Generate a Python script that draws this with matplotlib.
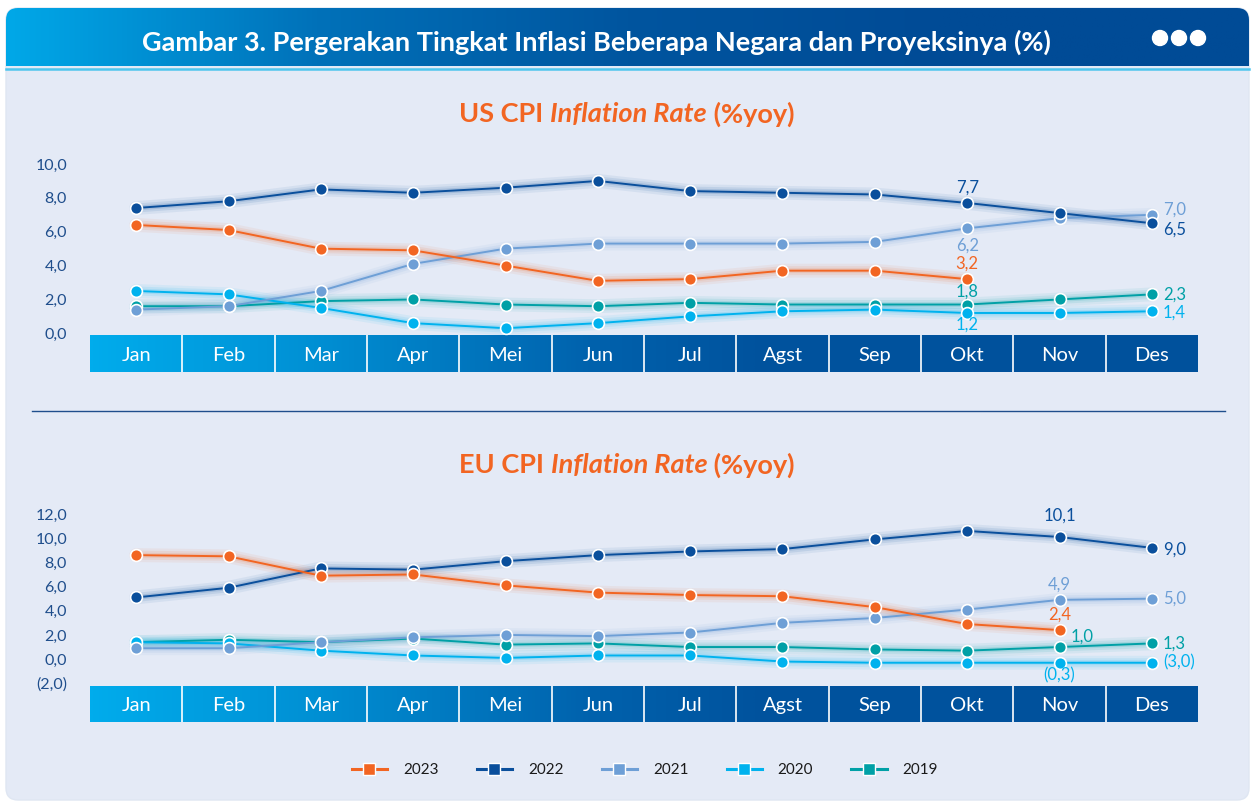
import numpy as np
import matplotlib
matplotlib.use("Agg")
import matplotlib.pyplot as plt
from matplotlib.patches import FancyBboxPatch
from matplotlib.colors import LinearSegmentedColormap
from matplotlib.lines import Line2D
from matplotlib.offsetbox import TextArea, HPacker, AnnotationBbox

plt.rcParams['font.family'] = ['Lato', 'DejaVu Sans']

# ---------------- data ----------------
months = ["Jan", "Feb", "Mar", "Apr", "Mei", "Jun", "Jul", "Agst", "Sep", "Okt", "Nov", "Des"]
years = ["2023", "2022", "2021", "2020", "2019"]

us_2023 = [6.4, 6.1, 5.0, 4.9, 4.0, 3.1, 3.2, 3.7, 3.7, 3.2]
us_2022 = [7.4, 7.8, 8.5, 8.3, 8.6, 9.0, 8.4, 8.3, 8.2, 7.7, 7.1, 6.5]
us_2021 = [1.4, 1.6, 2.5, 4.1, 5.0, 5.3, 5.3, 5.3, 5.4, 6.2, 6.8, 7.0]
us_2020 = [2.5, 2.3, 1.5, 0.6, 0.3, 0.6, 1.0, 1.3, 1.4, 1.2, 1.2, 1.3]
us_2019 = [1.6, 1.6, 1.9, 2.0, 1.7, 1.6, 1.8, 1.7, 1.7, 1.7, 2.0, 2.3]

eu_2023 = [8.6, 8.5, 6.9, 7.0, 6.1, 5.5, 5.3, 5.2, 4.3, 2.9, 2.4]
eu_2022 = [5.1, 5.9, 7.5, 7.4, 8.1, 8.6, 8.9, 9.1, 9.9, 10.6, 10.1, 9.2]
eu_2021 = [0.9, 0.9, 1.4, 1.8, 2.0, 1.9, 2.2, 3.0, 3.4, 4.1, 4.9, 5.0]
eu_2020 = [1.4, 1.3, 0.7, 0.3, 0.1, 0.3, 0.3, -0.2, -0.3, -0.3, -0.3, -0.3]
eu_2019 = [1.4, 1.6, 1.4, 1.7, 1.2, 1.3, 1.0, 1.0, 0.8, 0.7, 1.0, 1.3]

us_ticks = [0, 2, 4, 6, 8, 10]
us_tick_labels = ["0,0", "2,0", "4,0", "6,0", "8,0", "10,0"]
eu_ticks = [-2, 0, 2, 4, 6, 8, 10, 12]
eu_tick_labels = ["(2,0)", "0,0", "2,0", "4,0", "6,0", "8,0", "10,0", "12,0"]

# annotations: (year, month index, text, dx px, dy px, ha)
us_notes = [("2022", 9, "7,7", 0, 15, "center"), ("2021", 9, "6,2", 0, -17, "center"),
            ("2023", 9, "3,2", 0, 15, "center"), ("2019", 9, "1,8", 0, 13, "center"),
            ("2020", 9, "1,2", 0, -12, "center"), ("2021", 11, "7,0", 11, 5, "left"),
            ("2022", 11, "6,5", 11, -6, "left"), ("2019", 11, "2,3", 11, 0, "left"),
            ("2020", 11, "1,4", 11, -1, "left")]
eu_notes = [("2022", 10, "10,1", 0, 21, "center"), ("2022", 11, "9,0", 11, -2, "left"),
            ("2021", 10, "4,9", 0, 15, "center"), ("2021", 11, "5,0", 11, 0, "left"),
            ("2023", 10, "2,4", 0, 15, "center"), ("2019", 10, "1,0", 23, 10, "center"),
            ("2019", 11, "1,3", 11, 0, "left"), ("2020", 10, "(0,3)", 0, -13, "center"),
            ("2020", 11, "(3,0)", 11, 0, "left")]

colors = {"2023": "#f26522", "2022": "#0a4f9c", "2021": "#6e9fd6",
          "2020": "#00b2ee", "2019": "#00a0a6"}

W, H = 1253, 805
fig = plt.figure(figsize=(W / 100, H / 100), dpi=100)
fig.patch.set_facecolor("white")


def fx(px):
    return px / W


def fy(py):
    return 1 - py / H


# ---------------- background panel ----------------
bg_ax = fig.add_axes([0, 0, 1, 1], zorder=-10)
bg_ax.set_xlim(0, W)
bg_ax.set_ylim(H, 0)
bg_ax.axis("off")
panel = FancyBboxPatch((6, 8), W - 10, H - 13, boxstyle="round,pad=0,rounding_size=12",
                       fc="#e4eaf6", ec="#dfe6f2", lw=1)
bg_ax.add_patch(panel)
# header gradient
hdr_cmap = LinearSegmentedColormap.from_list("hdr", ["#00a8e8", "#0071b9", "#00559f", "#004b96", "#004b96"])
grad = np.linspace(0, 1, 512).reshape(1, -1)
im = bg_ax.imshow(grad, extent=(6, W - 4, 66, 8), cmap=hdr_cmap, aspect="auto", zorder=1)
clip = FancyBboxPatch((6, 8), W - 10, 80, boxstyle="round,pad=0,rounding_size=12",
                      fc="none", ec="none", transform=bg_ax.transData)
bg_ax.add_patch(clip)
im.set_clip_path(clip)
bg_ax.plot([6, W - 4], [69.5, 69.5], color="#4fc6ee", lw=1.8, zorder=2)
bg_ax.text(596, 42, "Gambar 3. Pergerakan Tingkat Inflasi Beberapa Negara dan Proyeksinya (%)",
           color="white", fontsize=19.5, fontweight="bold", ha="center", va="center", zorder=3)
for cx in (1160, 1179, 1198):
    bg_ax.add_patch(plt.Circle((cx, 38), 7.5, color="white", zorder=3))
# divider
bg_ax.plot([32, 1225], [410.5, 410.5], color="#1f4e8c", lw=1.0, zorder=2)

# subtitles
for ytxt, country in ((114, "US"), (465, "EU")):
    props = dict(color="#f26522", fontsize=19.5, fontweight="bold")
    parts = [TextArea(country + " CPI ", textprops=props),
             TextArea("Inflation Rate", textprops=dict(props, fontstyle="italic")),
             TextArea(" (%yoy)", textprops=props)]
    box = HPacker(children=parts, align="baseline", pad=0, sep=0)
    ab = AnnotationBbox(box, (fx(627), fy(ytxt)), xycoords="figure fraction",
                        box_alignment=(0.5, 0.5), frameon=False, pad=0)
    fig.add_artist(ab)

bar_cmap = LinearSegmentedColormap.from_list(
    "bar", [(0, "#00acec"), (0.2, "#0090d4"), (0.45, "#0062ad"), (0.6, "#00539e"), (1, "#00519c")])

X0, X1 = 90, 1198


def panel_chart(y_top, y_bot, ylo, yhi, bar_top, bar_bot, series, ticks, tick_labels, notes):
    # month bar
    bax = fig.add_axes([fx(X0), fy(bar_bot), fx(X1 - X0), (bar_bot - bar_top) / H], zorder=1)
    bax.set_xlim(-0.5, 11.5)
    bax.set_ylim(0, 1)
    bax.imshow(grad, extent=(-0.5, 11.5, 0, 1), cmap=bar_cmap, aspect="auto")
    bax.axis("off")
    for k in range(11):
        bax.plot([k + 0.5, k + 0.5], [0, 1], color="white", lw=1.2)
    for k, m in enumerate(months):
        bax.text(k, 0.45, m, color="white", fontsize=14.5, ha="center", va="center")

    ax = fig.add_axes([fx(X0), fy(y_bot), fx(X1 - X0), (y_bot - y_top) / H], zorder=2)
    ax.set_xlim(-0.5, 11.5)
    ax.set_ylim(ylo, yhi)
    ax.patch.set_alpha(0)
    for s in ax.spines.values():
        s.set_visible(False)
    ax.set_xticks([])
    ax.set_yticks(ticks)
    ax.set_yticklabels(tick_labels)
    ax.tick_params(axis="y", length=0, pad=16.5, labelsize=11.5, labelcolor="#1f4e8c")
    for yr in ["2019", "2020", "2021", "2022", "2023"]:
        vals = series[yr]
        x = np.arange(len(vals))
        c = colors[yr]
        for lw, a in ((10, 0.07), (6.5, 0.10), (3.5, 0.14)):
            ax.plot(x, vals, color=c, lw=lw, alpha=a, solid_capstyle="round", clip_on=False, zorder=2)
        ax.plot(x, vals, color=c, lw=1.4, marker="o", ms=8.5, mfc=c, mec="white", mew=1.2,
                clip_on=False, zorder=3)
    for yr, i, txt, dx, dy, ha in notes:
        ax.annotate(txt, (i, series[yr][i]), xytext=(dx * 0.72, dy * 0.72), textcoords="offset points",
                    ha=ha, va="center", fontsize=12, color=colors[yr], zorder=4, annotation_clip=False)
    return ax


us = {"2023": us_2023, "2022": us_2022, "2021": us_2021, "2020": us_2020, "2019": us_2019}
eu = {"2023": eu_2023, "2022": eu_2022, "2021": eu_2021, "2020": eu_2020, "2019": eu_2019}

# US: 10 -> y 164, 0 -> y 333.3
panel_chart(164, 333.3, 0, 10, 335, 372, us, us_ticks, us_tick_labels, us_notes)
# EU: 12 -> y 514, -2 -> y 683.3
panel_chart(514, 683.3, -2, 12, 686, 722, eu, eu_ticks, eu_tick_labels, eu_notes)

# legend
handles = [Line2D([0], [0], color=colors[y], lw=2.2, marker="s", ms=9, mfc=colors[y], mec="white", mew=1)
           for y in years]
fig.legend(handles, years, loc="center", bbox_to_anchor=(fx(645), fy(770)), ncol=5, frameon=False,
           fontsize=11, handlelength=2.3, handletextpad=1.05, columnspacing=2.5, labelcolor="#1a1a1a")

fig.savefig("out.png", dpi=100, facecolor=fig.get_facecolor())
